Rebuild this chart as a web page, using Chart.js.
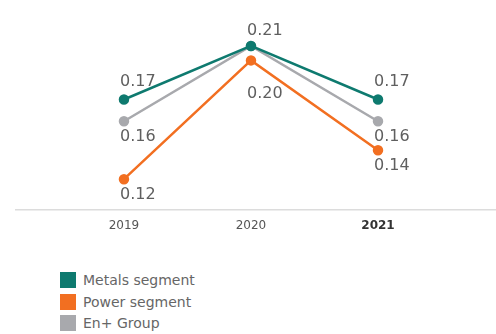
<!DOCTYPE html>
<html>
<head>
<meta charset="utf-8">
<script src="https://cdn.jsdelivr.net/npm/chart.js@4"></script>
<style>
  html, body { margin: 0; padding: 0; background: #fff; overflow: hidden; width: 496px; height: 334px; }
  #wrap { position: relative; width: 496px; height: 242px; }
  #legend { position: absolute; left: 60px; top: 272px; font-family: "DejaVu Sans", sans-serif; font-size: 14px; color: #666; }
  .item { display: flex; align-items: center; height: 16px; margin-bottom: 5.5px; }
  .sw { width: 16px; height: 16px; margin-right: 7px; }
</style>
</head>
<body>
<div id="wrap"><canvas id="c"></canvas></div>
<div id="legend"></div>
<script>
const years = [2019, 2020, 2021];
const seriesNames = ["Metals segment", "Power segment", "En+ Group"];
const metals = [0.173, 0.21, 0.173];
const power = [0.118, 0.20, 0.138];
const enplus = [0.158, 0.21, 0.158];
// which point labels are shown, and where (above / below)
const metalsLabelPos = ["above", "above", "above"];
const powerLabelPos = ["below", "below", "below"];
const enplusLabelPos = ["below", null, "below"];
const colors = ["#0e7a6f", "#f26f21", "#a8a9ad"];

const seriesValues = [metals, power, enplus];
const labelPos = [metalsLabelPos, powerLabelPos, enplusLabelPos];
const labelOffset = { above: -18, below: 16 };

const datasets = seriesValues.map((vals, i) => ({
  label: seriesNames[i],
  data: vals.map((v, j) => ({ x: years[j], y: v })),
  borderColor: colors[i],
  backgroundColor: colors[i],
  pointBackgroundColor: colors[i],
  pointBorderColor: colors[i],
  borderWidth: 2.5,
  pointRadius: 4,
  pointHoverRadius: 4,
  tension: 0,
  clip: false,
  order: i === 2 ? 3 : (i === 1 ? 2 : 1)
}));

const labelPlugin = {
  id: 'valueLabels',
  afterDatasetsDraw(chart) {
    const ctx = chart.ctx;
    ctx.save();
    ctx.font = '16px "DejaVu Sans", sans-serif';
    ctx.fillStyle = '#5f5f5f';
    ctx.textAlign = 'left';
    ctx.textBaseline = 'middle';
    chart.data.datasets.forEach((ds, i) => {
      const meta = chart.getDatasetMeta(i);
      meta.data.forEach((pt, j) => {
        const pos = labelPos[i][j];
        if (!pos) return;
        let off = labelOffset[pos];
        if (i === 1 && j === 1) off = 33;
        if (i === 0 && j === 1) off = -15;
        ctx.fillText(seriesValues[i][j].toFixed(2), pt.x - 4, pt.y + off);
      });
    });
    ctx.restore();
  }
};

new Chart(document.getElementById('c'), {
  type: 'line',
  data: { datasets },
  options: {
    responsive: true,
    maintainAspectRatio: false,
    animation: false,
    layout: { autoPadding: false, padding: { left: 16, right: 0, top: 0, bottom: 0 } },
    plugins: { legend: { display: false }, tooltip: { enabled: false } },
    scales: {
      x: {
        type: 'linear',
        min: 2018.15,
        max: 2021.929,
        afterBuildTicks: (axis) => { axis.ticks = years.map(v => ({ value: v })); },
        grid: { display: false, drawTicks: false },
        border: { display: true, color: '#dcdcdc', width: 1.5 },
        ticks: {
          padding: 9,
          maxRotation: 0,
          autoSkip: false,
          callback: (v) => String(v),
          color: (c) => c.tick && c.tick.value === 2021 ? '#333' : '#555',
          font: (c) => ({ family: '"DejaVu Sans", sans-serif', size: 12, weight: c.tick && c.tick.value === 2021 ? 'bold' : 'normal' })
        }
      },
      y: {
        display: false,
        min: 0.097,
        max: 0.2417
      }
    }
  },
  plugins: [labelPlugin]
});

const legend = document.getElementById('legend');
seriesNames.forEach((n, i) => {
  const d = document.createElement('div');
  d.className = 'item';
  const s = document.createElement('span');
  s.className = 'sw';
  s.style.background = colors[i];
  const t = document.createElement('span');
  t.textContent = n;
  d.appendChild(s); d.appendChild(t);
  legend.appendChild(d);
});
</script>
</body>
</html>
